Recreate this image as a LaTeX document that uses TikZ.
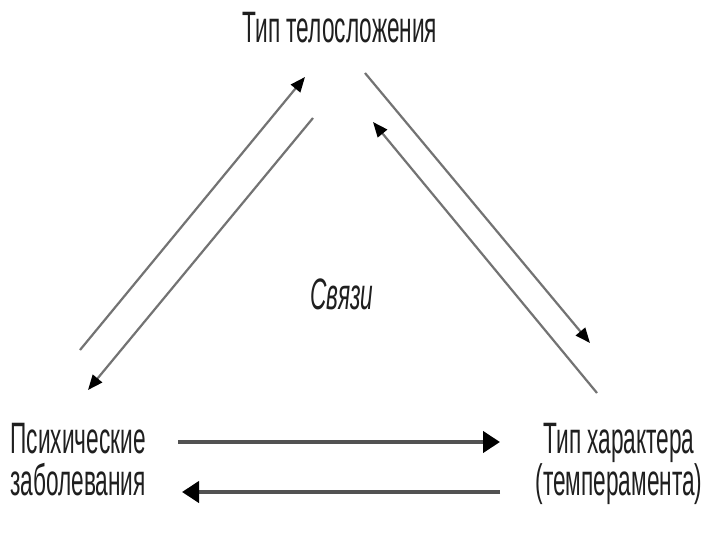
\documentclass[tikz,border=0pt]{standalone}
\usepackage{fontspec}
\newfontfamily\narrowfont[FakeStretch=0.515]{Liberation Sans}
\usepackage{tikz}
\usetikzlibrary{arrows.meta}
\setlength{\lineskiplimit}{-60pt}

\begin{document}
\begin{tikzpicture}[x=1pt,y=-1pt,
    lbl/.style={text=black!88,font=\narrowfont\fontsize{44}{42}\selectfont,align=center,inner sep=0pt},
    diag/.style={draw=black!55,line width=2.2pt,-{Triangle[length=15pt,width=12pt,color=black]}},
    horiz/.style={draw=black!68,line width=4pt,-{Triangle[length=17pt,width=21pt,color=black]}}]
    \useasboundingbox[fill=white] (0,0) rectangle (720,540);
    \node[lbl] (telo) at (340,28) {Тип телосложения};
    \node[lbl] (psych) at (78,460) {Психические\\заболевания};
    \node[lbl] (harakter) at (619,464) {Тип характера\\(темперамента)};
    \node[lbl,font=\narrowfont\itshape\fontsize{44}{42}\selectfont] (svyazi) at (342,294) {Связи};
    % pairs of links
    \draw[diag] ([shift={(2,-110)}]psych.center) -- ([shift={(-35,49)}]telo.center);
    \draw[diag] ([shift={(-27,90)}]telo.center) -- ([shift={(10,-70)}]psych.center);
    \draw[diag] ([shift={(25,45)}]telo.center) -- ([shift={(-29,-121)}]harakter.center);
    \draw[diag] ([shift={(-22,-71)}]harakter.center) -- ([shift={(33,94)}]telo.center);
    \draw[horiz] ([shift={(100,-18)}]psych.center) -- ([shift={(-119,-22)}]harakter.center);
    \draw[horiz] ([shift={(-119,28)}]harakter.center) -- ([shift={(104,32)}]psych.center);
\end{tikzpicture}
\end{document}
